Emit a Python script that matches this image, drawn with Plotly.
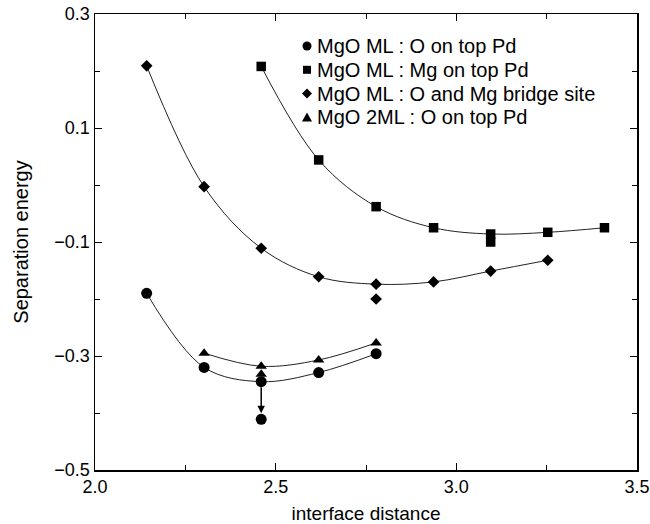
import plotly.graph_objects as go

# ---- data ----
o_top_x = [2.143, 2.302, 2.460, 2.619, 2.778]
o_top_y = [-0.190, -0.320, -0.345, -0.329, -0.296]
o_top_extra_x = [2.460]
o_top_extra_y = [-0.411]

mg_top_x = [2.460, 2.619, 2.778, 2.937, 3.095, 3.253, 3.410]
mg_top_y = [0.208, 0.044, -0.038, -0.075, -0.086, -0.083, -0.075]
mg_top_extra_x = [3.095]
mg_top_extra_y = [-0.100]

bridge_x = [2.143, 2.302, 2.460, 2.619, 2.778, 2.937, 3.095, 3.253]
bridge_y = [0.209, -0.003, -0.111, -0.161, -0.174, -0.170, -0.151, -0.132]
bridge_extra_x = [2.778]
bridge_extra_y = [-0.200]

two_ml_x = [2.302, 2.460, 2.619, 2.778]
two_ml_y = [-0.295, -0.318, -0.307, -0.277]
two_ml_extra_x = [2.460]
two_ml_extra_y = [-0.332]

names = ["MgO ML : O on top Pd", "MgO ML : Mg on top Pd",
         "MgO ML : O and Mg bridge site", "MgO 2ML : O on top Pd"]

x_ticks = [2.0, 2.5, 3.0, 3.5]
x_ticklabels = ["2.0", "2.5", "3.0", "3.5"]
y_ticks = [0.3, 0.1, -0.1, -0.3, -0.5]
y_ticklabels = ["0.3", "0.1", "\u22120.1", "\u22120.3", "\u22120.5"]

FONT = "Liberation Sans, Arial, Helvetica, sans-serif"
LINE = dict(color="#222222", width=1, shape="spline", smoothing=1.0)

W, H = 650, 524
ML, MR, MT, MB = 95, 13, 14, 54
PW, PH = W - ML - MR, H - MT - MB

series = [
    (o_top_x, o_top_y, o_top_extra_x, o_top_extra_y, "circle", 11),
    (mg_top_x, mg_top_y, mg_top_extra_x, mg_top_extra_y, "square", 9.5),
    (bridge_x, bridge_y, bridge_extra_x, bridge_extra_y, "diamond", 9),
    (two_ml_x, two_ml_y, two_ml_extra_x, two_ml_extra_y, "triangle-up", 10),
]

fig = go.Figure()
for xs, ys, ex, ey, sym, sz in series:
    fig.add_trace(go.Scatter(x=xs, y=ys, mode="lines", line=LINE,
                             showlegend=False, hoverinfo="skip"))
for i, (xs, ys, ex, ey, sym, sz) in enumerate(series):
    fig.add_trace(go.Scatter(x=xs + ex, y=ys + ey, mode="markers",
                             name=names[i], showlegend=False,
                             marker=dict(symbol=sym, size=sz, color="black",
                                         line=dict(width=0))))

# arrow from the O-on-top point at 2.46 to the relaxed point
fig.add_annotation(x=o_top_extra_x[0], y=o_top_extra_y[0],
                   ax=o_top_x[2], ay=o_top_y[2], xref="x", yref="y",
                   axref="x", ayref="y", showarrow=True, text="",
                   arrowhead=2, arrowsize=1, arrowwidth=1.5,
                   arrowcolor="black", standoff=6, startstandoff=4)

# ---- manual legend (symbol shape + text) ----
leg_sym_x = (307 - ML) / PW
leg_txt_x = (315 - ML) / PW
leg_y0 = (H - MB - 46) / PH
leg_dy = 23.8 / PH
sym_paths = {
    "square": "M-4,-4 L4,-4 L4,4 L-4,4 Z",
    "diamond": "M0,-5 L5,0 L0,5 L-5,0 Z",
    "triangle-up": "M-5,-4 L5,-4 L0,5 Z",
}
for i, (xs, ys, ex, ey, sym, sz) in enumerate(series):
    yc = leg_y0 - i * leg_dy
    if sym == "circle":
        fig.add_shape(type="circle", xref="paper", yref="paper",
                      xsizemode="pixel", ysizemode="pixel",
                      xanchor=leg_sym_x, yanchor=yc,
                      x0=-4.5, x1=4.5, y0=-4.5, y1=4.5,
                      fillcolor="black", line=dict(width=0))
    else:
        fig.add_shape(type="path", xref="paper", yref="paper",
                      xsizemode="pixel", ysizemode="pixel",
                      xanchor=leg_sym_x, yanchor=yc,
                      path=sym_paths[sym],
                      fillcolor="black", line=dict(width=0))
    fig.add_annotation(x=leg_txt_x, y=yc, xref="paper", yref="paper",
                       xanchor="left", yanchor="middle", showarrow=False,
                       text=names[i],
                       font=dict(family=FONT, size=20, color="black"))

axis_common = dict(showline=True, linecolor="black", linewidth=1.5,
                   mirror="allticks", ticks="inside", ticklen=7,
                   tickcolor="black", tickwidth=1, showgrid=False,
                   zeroline=False, automargin=False,
                   ticklabeloverflow="allow",
                   tickfont=dict(family=FONT, size=18, color="black"))

fig.update_xaxes(range=[2.0, 3.5], tickvals=x_ticks, ticktext=x_ticklabels,
                 minor=dict(dtick=0.25, tick0=2.0, ticks="inside", ticklen=5,
                            tickcolor="black", showgrid=False),
                 title=dict(text="interface distance",
                            font=dict(family=FONT, size=19, color="black"),
                            standoff=10),
                 **axis_common)
fig.update_yaxes(range=[-0.5, 0.3], tickvals=y_ticks, ticktext=y_ticklabels,
                 minor=dict(dtick=0.1, tick0=0.0, ticks="inside", ticklen=5,
                            tickcolor="black", showgrid=False),
                 title=dict(text="Separation energy",
                            font=dict(family=FONT, size=20, color="black"),
                            standoff=20),
                 **axis_common)

fig.update_layout(
    width=W, height=H,
    margin=dict(l=ML, r=MR, t=MT, b=MB, autoexpand=False),
    paper_bgcolor="white", plot_bgcolor="white",
    font=dict(family=FONT, size=18, color="black"),
    showlegend=False,
)

fig.write_html("out.html",
               config={"displayModeBar": False, "staticPlot": True},
               post_script="document.body.style.margin='0px';"
                           "document.body.style.overflow='hidden';")
